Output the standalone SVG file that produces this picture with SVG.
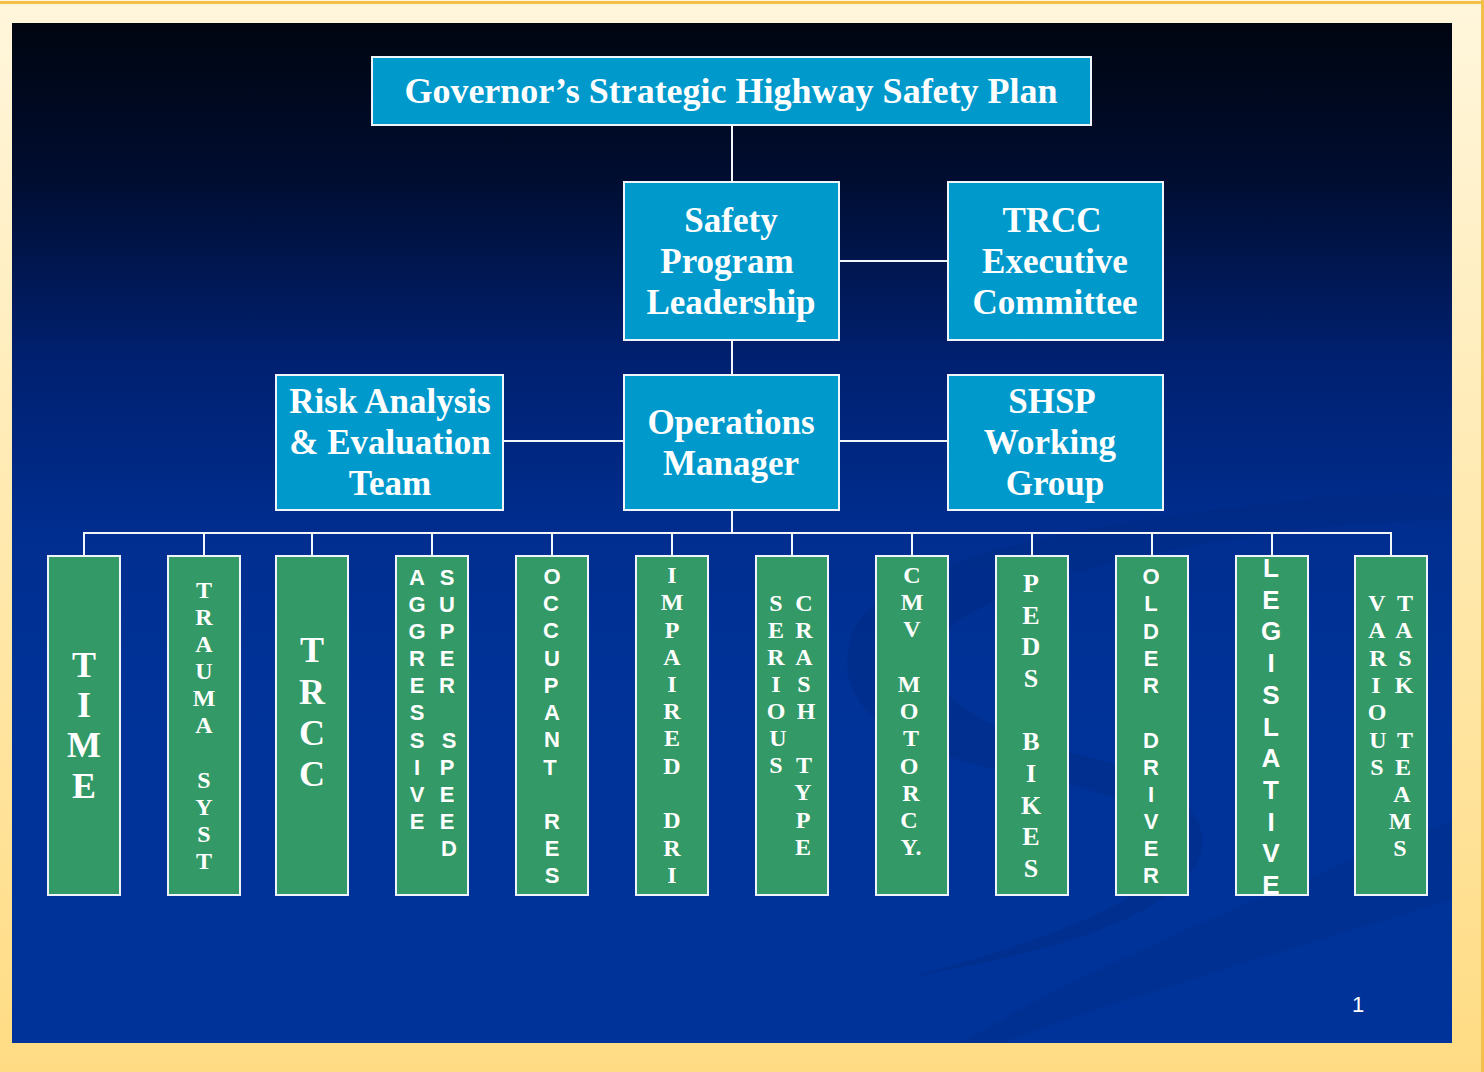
<svg xmlns="http://www.w3.org/2000/svg" width="1484" height="1072" viewBox="0 0 1484 1072">
<defs>
<linearGradient id="frame" x1="0" y1="0" x2="0" y2="1">
<stop offset="0" stop-color="#FFF6DC"/>
<stop offset="0.5" stop-color="#FFE9AE"/>
<stop offset="1" stop-color="#FFDC84"/>
</linearGradient>
<linearGradient id="slide" x1="0" y1="0" x2="0" y2="1">
<stop offset="0" stop-color="#000510"/>
<stop offset="0.15" stop-color="#000d30"/>
<stop offset="0.33" stop-color="#002070"/>
<stop offset="0.5" stop-color="#002e90"/>
<stop offset="0.7" stop-color="#003399"/>
<stop offset="1" stop-color="#003399"/>
</linearGradient>
<style>
.box{fill:#0099CC;stroke:#EEF4FA;stroke-width:2}
.col{fill:#339966;stroke:#EEF4FA;stroke-width:2}
.t{font-family:"Liberation Serif","Times New Roman",serif;font-weight:bold;fill:#FFFFFF;text-anchor:middle}
.big{font-size:35px}
.s{font-family:"Liberation Sans",Arial,sans-serif;font-weight:bold;fill:#FFFFFF;text-anchor:middle}
.c24{font-size:24px}
.c22{font-size:22px}
.c26{font-size:26px}
.c36{font-size:36px}
.conn line{stroke:#F2F6FA;stroke-width:2}
</style>
</defs>
<rect x="0" y="0" width="1484" height="1072" fill="url(#frame)"/>
<rect x="0" y="1" width="1484" height="3" fill="#F2C04A"/>
<rect x="1481" y="0" width="3" height="1072" fill="#F2C04A"/>
<rect x="12" y="23" width="1440" height="1020" fill="url(#slide)"/>
<g id="swoosh" opacity="0.3">
<path d="M850,640 C870,560 1100,520 1300,500 C1400,490 1450,495 1452,500 L1452,520 C1300,520 1050,560 960,620 C900,660 930,720 1100,760 C1200,785 1240,850 1160,900 C1100,940 1000,960 900,980 C1050,940 1150,900 1170,860 C1190,810 1100,790 1000,770 C880,745 835,700 850,640 Z" fill="#00287a"/>
<path d="M1000,1043 C1150,990 1320,940 1452,900 L1452,820 C1300,880 1100,960 960,1043 Z" fill="#002d85"/>
</g>
<g class="conn" id="connectors">
<line x1="732" y1="125" x2="732" y2="182"/>
<line x1="839" y1="261" x2="948" y2="261"/>
<line x1="732" y1="340" x2="732" y2="375"/>
<line x1="503" y1="441" x2="624" y2="441"/>
<line x1="839" y1="441" x2="948" y2="441"/>
<line x1="732" y1="510" x2="732" y2="533"/>
<line x1="83" y1="533" x2="1392" y2="533"/>
<line x1="84" y1="533" x2="84" y2="556"/>
<line x1="204" y1="533" x2="204" y2="556"/>
<line x1="312" y1="533" x2="312" y2="556"/>
<line x1="432" y1="533" x2="432" y2="556"/>
<line x1="552" y1="533" x2="552" y2="556"/>
<line x1="672" y1="533" x2="672" y2="556"/>
<line x1="792" y1="533" x2="792" y2="556"/>
<line x1="912" y1="533" x2="912" y2="556"/>
<line x1="1032" y1="533" x2="1032" y2="556"/>
<line x1="1152" y1="533" x2="1152" y2="556"/>
<line x1="1272" y1="533" x2="1272" y2="556"/>
<line x1="1391" y1="533" x2="1391" y2="556"/>
</g>
<g id="gshsp">
<rect class="box" x="372" y="57" width="719" height="68"/>
<text class="t" font-size="36" x="731" y="103">Governor’s Strategic Highway Safety Plan</text>
</g>
<g id="spl">
<rect class="box" x="624" y="182" width="215" height="158"/>
<text class="t big"><tspan x="731" y="232">Safety</tspan><tspan x="727" y="273">Program</tspan><tspan x="731" y="314">Leadership</tspan></text>
</g>
<g id="trcc-exec">
<rect class="box" x="948" y="182" width="215" height="158"/>
<text class="t big"><tspan x="1052" y="232">TRCC</tspan><tspan x="1055" y="273">Executive</tspan><tspan x="1055" y="314">Committee</tspan></text>
</g>
<g id="risk">
<rect class="box" x="276" y="375" width="227" height="135"/>
<text class="t big"><tspan x="390" y="413">Risk Analysis</tspan><tspan x="390" y="454">&amp; Evaluation</tspan><tspan x="390" y="495">Team</tspan></text>
</g>
<g id="ops">
<rect class="box" x="624" y="375" width="215" height="135"/>
<text class="t big"><tspan x="731" y="434">Operations</tspan><tspan x="731" y="475">Manager</tspan></text>
</g>
<g id="shsp-wg">
<rect class="box" x="948" y="375" width="215" height="135"/>
<text class="t big"><tspan x="1052" y="413">SHSP</tspan><tspan x="1050" y="454">Working</tspan><tspan x="1055" y="495">Group</tspan></text>
</g>
<g id="time">
<rect class="col" x="48" y="556" width="72" height="339"/>
<text class="t c36"><tspan x="84" y="677">T</tspan><tspan x="84" y="717">I</tspan><tspan x="84" y="757">M</tspan><tspan x="84" y="798">E</tspan></text>
</g>
<g id="trauma">
<rect class="col" x="168" y="556" width="72" height="339"/>
<text class="t c24"><tspan x="204" y="598">T</tspan><tspan x="204" y="625">R</tspan><tspan x="204" y="652">A</tspan><tspan x="204" y="679">U</tspan><tspan x="204" y="706">M</tspan><tspan x="204" y="733">A</tspan><tspan x="204" y="788">S</tspan><tspan x="204" y="815">Y</tspan><tspan x="204" y="842">S</tspan><tspan x="204" y="869">T</tspan></text>
</g>
<g id="trcc">
<rect class="col" x="276" y="556" width="72" height="339"/>
<text class="t c36"><tspan x="312" y="662">T</tspan><tspan x="312" y="704">R</tspan><tspan x="312" y="745">C</tspan><tspan x="312" y="786">C</tspan></text>
</g>
<g id="aggressive">
<rect class="col" x="396" y="556" width="72" height="339"/>
<text class="s c22"><tspan x="417" y="585">A</tspan><tspan x="417" y="612">G</tspan><tspan x="417" y="639">G</tspan><tspan x="417" y="666">R</tspan><tspan x="417" y="693">E</tspan><tspan x="417" y="720">S</tspan><tspan x="417" y="748">S</tspan><tspan x="417" y="775">I</tspan><tspan x="417" y="802">V</tspan><tspan x="417" y="829">E</tspan></text>
<text class="s c22"><tspan x="447" y="585">S</tspan><tspan x="447" y="612">U</tspan><tspan x="447" y="639">P</tspan><tspan x="447" y="666">E</tspan><tspan x="447" y="693">R</tspan><tspan x="449" y="748">S</tspan><tspan x="447" y="775">P</tspan><tspan x="447" y="802">E</tspan><tspan x="447" y="829">E</tspan><tspan x="449" y="856">D</tspan></text>
</g>
<g id="occupant">
<rect class="col" x="516" y="556" width="72" height="339"/>
<text class="s c22"><tspan x="552" y="584">O</tspan><tspan x="551" y="611">C</tspan><tspan x="551" y="638">C</tspan><tspan x="552" y="666">U</tspan><tspan x="551" y="693">P</tspan><tspan x="552" y="720">A</tspan><tspan x="552" y="747">N</tspan><tspan x="550" y="775">T</tspan><tspan x="552" y="829">R</tspan><tspan x="552" y="856">E</tspan><tspan x="552" y="883">S</tspan></text>
</g>
<g id="impaired">
<rect class="col" x="636" y="556" width="72" height="339"/>
<text class="t c24"><tspan x="672" y="583">I</tspan><tspan x="672" y="610">M</tspan><tspan x="672" y="638">P</tspan><tspan x="672" y="665">A</tspan><tspan x="672" y="692">I</tspan><tspan x="672" y="719">R</tspan><tspan x="672" y="746">E</tspan><tspan x="672" y="774">D</tspan><tspan x="672" y="828">D</tspan><tspan x="672" y="856">R</tspan><tspan x="672" y="883">I</tspan></text>
</g>
<g id="serious">
<rect class="col" x="756" y="556" width="72" height="339"/>
<text class="t c24"><tspan x="776" y="611">S</tspan><tspan x="776" y="638">E</tspan><tspan x="776" y="665">R</tspan><tspan x="776" y="692">I</tspan><tspan x="776" y="719">O</tspan><tspan x="778" y="746">U</tspan><tspan x="776" y="773">S</tspan></text>
<text class="t c24"><tspan x="804" y="611">C</tspan><tspan x="804" y="638">R</tspan><tspan x="804" y="665">A</tspan><tspan x="804" y="692">S</tspan><tspan x="806" y="719">H</tspan><tspan x="804" y="773">T</tspan><tspan x="803" y="800">Y</tspan><tspan x="803" y="828">P</tspan><tspan x="803" y="855">E</tspan></text>
</g>
<g id="cmv">
<rect class="col" x="876" y="556" width="72" height="339"/>
<text class="t c24"><tspan x="912" y="583">C</tspan><tspan x="912" y="610">M</tspan><tspan x="912" y="637">V</tspan><tspan x="909" y="692">M</tspan><tspan x="909" y="719">O</tspan><tspan x="911" y="746">T</tspan><tspan x="909" y="774">O</tspan><tspan x="911" y="801">R</tspan><tspan x="909" y="828">C</tspan><tspan x="911" y="855">Y.</tspan></text>
</g>
<g id="peds">
<rect class="col" x="996" y="556" width="72" height="339"/>
<text class="t c26"><tspan x="1031" y="592">P</tspan><tspan x="1031" y="624">E</tspan><tspan x="1031" y="655">D</tspan><tspan x="1031" y="687">S</tspan><tspan x="1031" y="750">B</tspan><tspan x="1031" y="782">I</tspan><tspan x="1031" y="814">K</tspan><tspan x="1031" y="845">E</tspan><tspan x="1031" y="877">S</tspan></text>
</g>
<g id="older">
<rect class="col" x="1116" y="556" width="72" height="339"/>
<text class="s c22"><tspan x="1151" y="584">O</tspan><tspan x="1151" y="611">L</tspan><tspan x="1151" y="639">D</tspan><tspan x="1151" y="666">E</tspan><tspan x="1151" y="693">R</tspan><tspan x="1151" y="748">D</tspan><tspan x="1151" y="775">R</tspan><tspan x="1151" y="802">I</tspan><tspan x="1151" y="829">V</tspan><tspan x="1151" y="856">E</tspan><tspan x="1151" y="883">R</tspan></text>
</g>
<g id="legislative">
<rect class="col" x="1236" y="556" width="72" height="339"/>
<text class="s c26"><tspan x="1271" y="577">L</tspan><tspan x="1271" y="609">E</tspan><tspan x="1271" y="640">G</tspan><tspan x="1271" y="672">I</tspan><tspan x="1271" y="704">S</tspan><tspan x="1271" y="736">L</tspan><tspan x="1271" y="767">A</tspan><tspan x="1271" y="799">T</tspan><tspan x="1271" y="831">I</tspan><tspan x="1271" y="862">V</tspan><tspan x="1271" y="894">E</tspan></text>
</g>
<g id="various">
<rect class="col" x="1355" y="556" width="72" height="339"/>
<text class="t c24"><tspan x="1377" y="611">V</tspan><tspan x="1377" y="638">A</tspan><tspan x="1378" y="666">R</tspan><tspan x="1376" y="693">I</tspan><tspan x="1377" y="720">O</tspan><tspan x="1378" y="748">U</tspan><tspan x="1377" y="775">S</tspan></text>
<text class="t c24"><tspan x="1405" y="611">T</tspan><tspan x="1404" y="638">A</tspan><tspan x="1405" y="666">S</tspan><tspan x="1404" y="693">K</tspan><tspan x="1405" y="748">T</tspan><tspan x="1403" y="775">E</tspan><tspan x="1402" y="802">A</tspan><tspan x="1400" y="829">M</tspan><tspan x="1400" y="856">S</tspan></text>
</g>
<text x="1358" y="1012" font-family="Liberation Sans, Arial, sans-serif" font-size="22" fill="#FFFFFF" text-anchor="middle">1</text>
</svg>
